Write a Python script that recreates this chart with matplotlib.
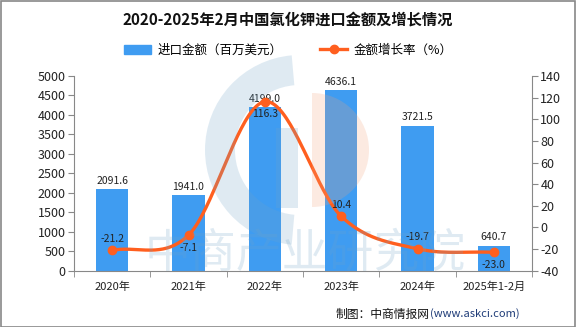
import numpy as np
import matplotlib
matplotlib.use("Agg")
import matplotlib.pyplot as plt
from matplotlib.patches import Wedge, Rectangle
from matplotlib.lines import Line2D

plt.rcParams['font.family'] = ['Noto Sans CJK SC', 'DejaVu Sans']
plt.rcParams['axes.unicode_minus'] = False

categories = ["2020年", "2021年", "2022年", "2023年", "2024年", "2025年1-2月"]
import_value = [2091.6, 1941.0, 4199.0, 4636.1, 3721.5, 640.7]
growth_rate = [-21.2, -7.1, 116.3, 10.4, -19.7, -23.0]
growth_label_above = [True, False, False, True, True, False]

bar_color = "#3F9CF1"
line_color = "#FF5F1F"
axis_grey = "#888888"

W, H = 576, 327
fig = plt.figure(figsize=(W / 100, H / 100), dpi=100)
ax = fig.add_axes([74 / W, 1 - 270.7 / H, (532 - 74) / W, (270.7 - 76) / H])
ax2 = ax.twinx()

x = np.arange(len(categories))
ax.bar(x, import_value, width=0.42, color=bar_color, zorder=2)
for xi, v in zip(x, import_value):
    ax.text(xi, v + 90, f"{v:.1f}", ha="center", va="bottom", fontsize=7.5, color="#222222")

ax.set_xlim(-0.5, len(categories) - 0.5)
ax.set_ylim(0, 5000)
ax.set_yticks(np.arange(0, 5001, 500))
ax2.set_ylim(-40, 140)
ax2.set_yticks(np.arange(-40, 141, 20))

# smooth growth curve (Catmull-Rom through the yearly points)
def catmull_rom(xs, ys, n=40):
    px = np.concatenate([[2 * xs[0] - xs[1]], xs, [2 * xs[-1] - xs[-2]]])
    py = np.concatenate([[2 * ys[0] - ys[1]], ys, [2 * ys[-1] - ys[-2]]])
    outx, outy = [], []
    for i in range(1, len(px) - 2):
        t = np.linspace(0, 1, n)
        for arr, out in ((px, outx), (py, outy)):
            p0, p1, p2, p3 = arr[i - 1], arr[i], arr[i + 1], arr[i + 2]
            out.extend(0.5 * ((2 * p1) + (-p0 + p2) * t
                              + (2 * p0 - 5 * p1 + 4 * p2 - p3) * t ** 2
                              + (-p0 + 3 * p1 - 3 * p2 + p3) * t ** 3))
    return np.array(outx), np.array(outy)

gr = np.array(growth_rate, dtype=float)
sx, sy = catmull_rom(x.astype(float), gr)
ax2.plot(sx, sy, color=line_color, lw=2.4, zorder=3, solid_capstyle="round")
ax2.plot(x, gr, "o", color=line_color, ms=6, zorder=4)
for xi, v, above in zip(x, gr, growth_label_above):
    if above:
        ax2.text(xi, v + 6, f"{v:.1f}", ha="center", va="bottom", fontsize=7.5, color="#222222", zorder=5)
    else:
        ax2.text(xi, v - 7, f"{v:.1f}", ha="center", va="top", fontsize=7.5, color="#222222", zorder=5)

# axes styling
for a in (ax, ax2):
    a.spines["top"].set_visible(False)
    a.spines["left"].set_color(axis_grey)
    a.spines["right"].set_color(axis_grey)
    a.spines["bottom"].set_color(axis_grey)
ax.spines["right"].set_visible(False)
ax2.spines["left"].set_visible(False)
ax2.spines["bottom"].set_visible(False)
ax.tick_params(axis="y", colors="#222222", labelsize=9, length=4, color=axis_grey, pad=2)
ax2.tick_params(axis="y", colors="#222222", labelsize=9, length=4, color=axis_grey, pad=2)
ax.set_xticks(x)
ax.set_xticklabels(categories, fontsize=8, color="#222222")
ax.tick_params(axis="x", length=0, pad=8)
ax.set_xticks(np.arange(-0.5, len(categories), 1.0), minor=True)
ax.tick_params(axis="x", which="minor", length=4, color=axis_grey)

# title and legend
fig.text(0.5, 1 - 20 / H, "2020-2025年2月中国氯化钾进口金额及增长情况", ha="center", va="center",
         fontsize=11, fontweight="bold", color="#111111")
handles = [Rectangle((0, 0), 1, 1, color=bar_color),
           Line2D([0], [0], color=line_color, lw=2.4, marker="o", ms=6)]
fig.legend(handles, ["进口金额（百万美元）", "金额增长率（%）"], loc="center",
           bbox_to_anchor=(0.5, 1 - 50 / H), ncol=2, frameon=False, fontsize=9,
           handlelength=2.2, columnspacing=3, handletextpad=0.5)

# footer
fig.text(430 / W, 1 - 314 / H, "制图：中商情报网", ha="right", va="center", fontsize=8.5, color="#111111")
fig.text(430 / W, 1 - 314 / H, "(www.askci.com)", ha="left", va="center", fontsize=8, color="#1F3C78")

# faint watermark overlay
wm = fig.add_axes([0, 0, 1, 1], zorder=10)
wm.set_xlim(0, W)
wm.set_ylim(H, 0)
wm.axis("off")
wm.add_patch(Wedge((300, 150), 95, 95, 265, width=30, color="#6FA3C8", alpha=0.22, lw=0))
wm.add_patch(Rectangle((276, 128), 22, 80, color="#6FA3C8", alpha=0.22, lw=0))
wm.add_patch(Wedge((312, 150), 57, -90, 90, color="#F2A27A", alpha=0.22, lw=0))
wm.text(305, 254, "中商产业研究院", ha="center", va="center", fontsize=33, color="#6FA3C8",
        alpha=0.22)

# outer frame
fig.patches.append(Rectangle((0.5 / W, 0.5 / H), 1 - 1.5 / W, 1 - 1.5 / H, transform=fig.transFigure,
                             fill=False, edgecolor="#888888", lw=1.2))

fig.savefig("out.png", dpi=100)
